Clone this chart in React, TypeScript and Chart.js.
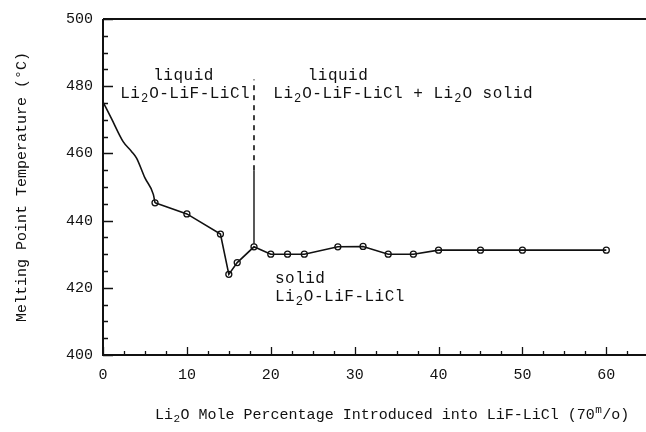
import React, { useEffect, useRef } from "react";
import { Chart, registerables } from "chart.js";

Chart.register(...registerables);

// Smooth liquidus curve (no markers) near the origin
const curveX = [0, 1, 2.4, 3.4, 4, 5, 6, 6.2];
const curveY = [475.3, 470.4, 463.5, 460.6, 458.6, 452.7, 447.8, 445.3];

// Measured points (open circles)
const measX = [6.2, 10, 14, 15, 16, 18, 20, 22, 24, 28, 31, 34, 37, 40, 45, 50, 60];
const measY = [445.3, 442, 436, 424, 427.5, 432.2, 430, 430, 430, 432.2, 432.3, 430, 430, 431.2, 431.2, 431.2, 431.2];

// Phase boundary (vertical line): solid part then dashed part
const boundarySolidX = [18, 18];
const boundarySolidY = [432.2, 455];
const boundaryDashX = [18, 18];
const boundaryDashY = [455, 482];

const X_MIN = 0;
const X_MAX = 64.1;
const Y_MIN = 400;
const Y_MAX = 500;
const X_STEP = 10;
const Y_STEP = 20;
const X_MINOR = 2.5;
const Y_MINOR = 5;

const yTitle = "Melting Point Temperature (°C)";
const xTitle = "Li_2O Mole Percentage Introduced into LiF-LiCl (70^m/o)";

const regionTexts = ["liquid", "Li_2O-LiF-LiCl", "liquid", "Li_2O-LiF-LiCl + Li_2O solid", "solid", "Li_2O-LiF-LiCl"];
const regionX = [9.6, 9.8, 24.4, 20.3, 20.5, 20.5];
const regionY = [483.2, 477.8, 483.0, 477.7, 422.8, 417.2];
const regionAlign = ["center", "center", "left", "left", "left", "left"];

const FONT = "'Liberation Mono', 'DejaVu Sans Mono', monospace";
const INK = "#111111";

function toXY(xs: number[], ys: number[]) {
  return xs.map((x, i) => ({ x, y: ys[i] }));
}

function drawRich(
  ctx: CanvasRenderingContext2D,
  text: string,
  x: number,
  y: number,
  align: string,
  size: number,
  spacing: number
) {
  const parts: { t: string; k: number }[] = [];
  let buf = "";
  let i = 0;
  while (i < text.length) {
    const c = text[i];
    if ((c === "_" || c === "^") && i + 1 < text.length) {
      if (buf) parts.push({ t: buf, k: 0 });
      buf = "";
      parts.push({ t: text[i + 1], k: c === "_" ? 1 : -1 });
      i += 2;
      continue;
    }
    buf += c;
    i++;
  }
  if (buf) parts.push({ t: buf, k: 0 });
  const small = Math.round(size * 0.72);
  (ctx as any).letterSpacing = spacing + "px";
  const widths = parts.map((p) => {
    ctx.font = `${p.k ? small : size}px ${FONT}`;
    return ctx.measureText(p.t).width + (p.k ? 1 : 0);
  });
  const total = widths.reduce((a, b) => a + b, 0);
  let cx = align === "center" ? x - total / 2 : align === "right" ? x - total : x;
  ctx.textAlign = "left";
  ctx.textBaseline = "middle";
  parts.forEach((p, j) => {
    ctx.font = `${p.k ? small : size}px ${FONT}`;
    const dy = p.k === 1 ? size * 0.3 : p.k === -1 ? -size * 0.32 : 0;
    ctx.fillText(p.t, cx + (p.k ? 0.5 : 0), y + dy);
    cx += widths[j];
  });
  (ctx as any).letterSpacing = "0px";
}

const decorPlugin = {
  id: "decor",
  afterDatasetsDraw(chart: any) {
    const ctx: CanvasRenderingContext2D = chart.ctx;
    const { left, top, bottom } = chart.chartArea;
    const edge = chart.width;
    const xs = chart.scales.x;
    const ys = chart.scales.y;
    ctx.save();
    ctx.strokeStyle = INK;
    ctx.fillStyle = INK;

    // axis frame: left, bottom, top (runs off the right edge)
    ctx.lineWidth = 2;
    ctx.beginPath();
    ctx.moveTo(left, top);
    ctx.lineTo(left, bottom);
    ctx.lineTo(edge, bottom);
    ctx.moveTo(left, top);
    ctx.lineTo(edge, top);
    ctx.stroke();

    // inward ticks
    ctx.lineWidth = 1.3;
    ctx.beginPath();
    for (let v = Y_MIN; v <= Y_MAX + 1e-6; v += Y_MINOR) {
      const py = Math.round(ys.getPixelForValue(v)) + 0.5;
      const major = Math.abs((v - Y_MIN) % Y_STEP) < 1e-6;
      ctx.moveTo(left, py);
      ctx.lineTo(left + (major ? 10 : 5), py);
    }
    for (let v = X_MIN; v <= X_MAX + 2; v += X_MINOR) {
      const px = Math.round(xs.getPixelForValue(v)) + 0.5;
      if (px > edge) break;
      const major = Math.abs((v - X_MIN) % X_STEP) < 1e-6;
      ctx.moveTo(px, bottom);
      ctx.lineTo(px, bottom - (major ? 8 : 4));
    }
    ctx.stroke();

    // region annotations
    regionTexts.forEach((t, i) => {
      drawRich(ctx, t, xs.getPixelForValue(regionX[i]), ys.getPixelForValue(regionY[i]), regionAlign[i], 16, 0.5);
    });

    // x-axis title
    drawRich(ctx, xTitle, 155, 415, "left", 15, 0);

    // y-axis title
    ctx.save();
    ctx.translate(22, (top + bottom) / 2 + 0);
    ctx.rotate(-Math.PI / 2);
    drawRich(ctx, yTitle, 0, 0, "center", 15, 0);
    ctx.restore();

    ctx.restore();
  },
};

export default function App() {
  const canvasRef = useRef<HTMLCanvasElement | null>(null);

  useEffect(() => {
    document.body.style.margin = "0";
    const canvas = canvasRef.current;
    if (!canvas) return;
    const chart = new Chart(canvas, {
      type: "line",
      data: {
        datasets: [
          {
            label: "curve",
            data: toXY(curveX, curveY),
            borderColor: INK,
            borderWidth: 1.6,
            pointRadius: 0,
            tension: 0.4,
            cubicInterpolationMode: "monotone",
            fill: false,
          },
          {
            label: "measured line",
            data: toXY(measX, measY),
            borderColor: INK,
            borderWidth: 1.6,
            pointRadius: 0,
            tension: 0,
            fill: false,
          },
          {
            label: "measured",
            data: toXY(measX, measY),
            showLine: false,
            pointStyle: "circle",
            pointRadius: 3,
            pointBorderWidth: 1.3,
            pointBorderColor: INK,
            pointBackgroundColor: "#ffffff",
          },
          {
            label: "boundary",
            data: toXY(boundarySolidX, boundarySolidY),
            borderColor: INK,
            borderWidth: 1.4,
            pointRadius: 0,
          },
          {
            label: "boundary dashed",
            data: toXY(boundaryDashX, boundaryDashY),
            borderColor: INK,
            borderWidth: 1.6,
            borderDash: [5, 5],
            pointRadius: 0,
          },
        ],
      },
      options: {
        animation: false,
        responsive: true,
        maintainAspectRatio: false,
        layout: { padding: { top: 17, right: 0, bottom: 0, left: 0 } },
        plugins: {
          legend: { display: false },
          tooltip: { enabled: false },
          title: { display: false },
        },
        scales: {
          x: {
            type: "linear",
            min: X_MIN,
            max: X_MAX,
            grid: { display: false, drawTicks: false },
            border: { display: false },
            ticks: {
              stepSize: X_STEP,
              includeBounds: false,
              padding: 11,
              color: INK,
              font: { family: FONT, size: 15 },
              maxRotation: 0,
            },
            afterFit: (scale: any) => {
              scale.height = 77;
            },
          },
          y: {
            type: "linear",
            min: Y_MIN,
            max: Y_MAX,
            grid: { display: false, drawTicks: false },
            border: { display: false },
            ticks: {
              stepSize: Y_STEP,
              padding: 10,
              color: INK,
              font: { family: FONT, size: 15 },
            },
            afterFit: (scale: any) => {
              scale.width = 103;
            },
          },
        },
      },
      plugins: [decorPlugin],
    });
    return () => chart.destroy();
  }, []);

  return (
    <div style={{ position: "fixed", left: 0, top: 0, width: 646, height: 432, background: "#fff" }}>
      <canvas ref={canvasRef} />
    </div>
  );
}
